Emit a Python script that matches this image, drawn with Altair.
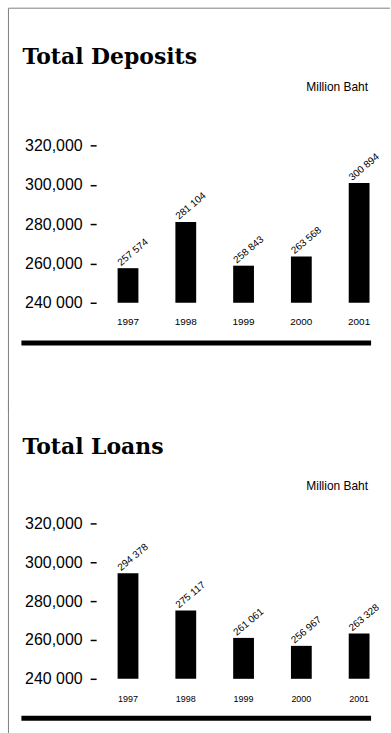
import altair as alt
import pandas as pd

years = ["1997", "1998", "1999", "2000", "2001"]
deposits = [257574, 281104, 258843, 263568, 300894]
loans = [294378, 275117, 261061, 256967, 263328]
y_ticks = [240000, 260000, 280000, 300000, 320000]
titles = ["Total Deposits", "Total Loans"]
units = ["Million Baht", "Million  Baht"]

Y_MIN, Y_MAX = 240000, 320000
PLOT_W = 290


def one(df_text):
    return pd.DataFrame({"t": [df_text]})


def panel(values, title, unit, h, top_line, vtop, vbot, title_y, unit_y, rule_y,
          year_size, year_pad):
    df = pd.DataFrame({
        "year": years,
        "value": values,
        "label": [f"{v:,}".replace(",", " ") for v in values],
    })
    x = alt.X("year:N", sort=years,
              scale=alt.Scale(paddingInner=0.64, paddingOuter=0.32),
              axis=alt.Axis(title=None, labelAngle=0, domain=False, ticks=False,
                            tickSize=0, labelPadding=year_pad,
                            labelFontSize=year_size, labelFont="Liberation Sans",
                            labelColor="black"))
    y = alt.Y("value:Q",
              scale=alt.Scale(domain=[Y_MIN, Y_MAX], zero=False, nice=False),
              axis=alt.Axis(title=None, values=y_ticks, grid=False, domain=False,
                            ticks=True, tickSize=6, tickWidth=1.5, tickColor="black",
                            offset=3, labelPadding=8, labelFontSize=16,
                            labelFont="Liberation Sans", labelColor="black",
                            labelExpr="datum.value == 240000 ? '240 000' : format(datum.value, ',')"))
    base = alt.Chart(df)
    bars = base.mark_bar(color="black").encode(x=x, y=y, y2=alt.datum(Y_MIN))
    labels = base.mark_text(angle=320, align="left", baseline="alphabetic",
                            dx=-4, dy=-6, fontSize=10, font="Liberation Sans",
                            color="black").encode(x=x, y=y, text="label:N")
    d = one(title)
    title_mark = alt.Chart(d).mark_text(align="left", baseline="alphabetic",
                                        font="DejaVu Serif", fontSize=22,
                                        fontWeight="bold", color="black").encode(
        x=alt.value(-77), y=alt.value(title_y), text="t:N")
    unit_mark = alt.Chart(one(unit)).mark_text(align="right", baseline="middle",
                                               font="Liberation Sans", fontSize=12,
                                               color="black").encode(
        x=alt.value(270), y=alt.value(unit_y), text="t:N")
    rule = alt.Chart(d).mark_rule(color="black", strokeWidth=5).encode(
        x=alt.value(-78), x2=alt.value(273), y=alt.value(rule_y))
    vline = alt.Chart(d).mark_rule(color="#808080", strokeWidth=1).encode(
        x=alt.value(-91), y=alt.value(vtop), y2=alt.value(vbot))
    layers = [vline, bars, labels, title_mark, unit_mark, rule]
    if top_line is not None:
        hline = alt.Chart(d).mark_rule(color="#808080", strokeWidth=1).encode(
            x=alt.value(-91), x2=alt.value(292), y=alt.value(top_line))
        layers.insert(0, hline)
    return alt.layer(*layers).properties(width=PLOT_W, height=h)


p1 = panel(deposits, titles[0], units[0], 158, -137.7, -137.7, 266.3,
           -82, -59, 198.3, 10, 14)
p2 = panel(loans, titles[1], units[1], 156, None, -122.3, 215,
           -69.3, -37.3, 195.7, 9, 16)

chart = alt.vconcat(p1, p2, spacing=-12.5).properties(
    padding={"left": 7.5, "top": 5.5, "right": 0, "bottom": 0},
    background="white",
).configure_view(stroke="transparent")

chart.save("out.html", embed_options={"renderer": "svg", "actions": False})
